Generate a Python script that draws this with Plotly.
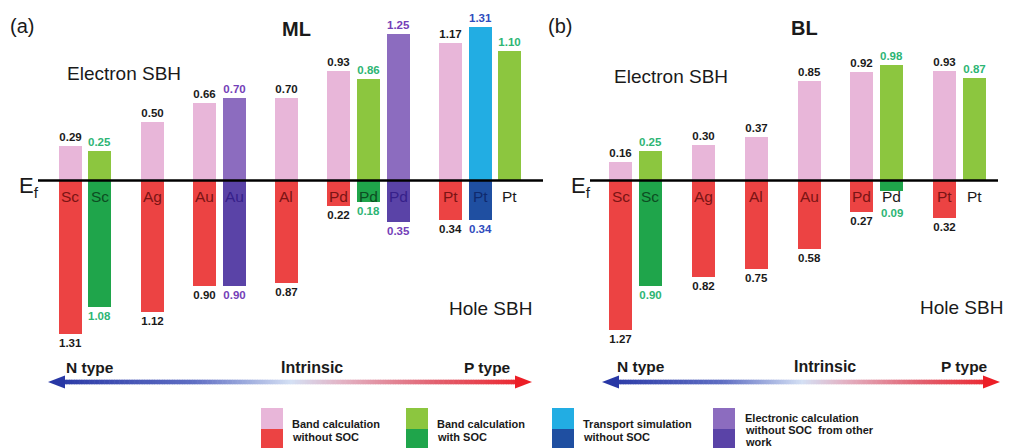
import plotly.graph_objects as go

W, H = 1011, 448
FONT = "Liberation Sans, Arial, sans-serif"

# ---- Monolayer (ML) Schottky barrier heights, eV ----
ml_metals = ["Sc", "Sc", "Ag", "Au", "Au", "Al", "Pd", "Pd", "Pd", "Pt", "Pt", "Pt"]
ml_methods = ["band", "band_soc", "band", "band", "other", "band",
              "band", "band_soc", "other", "band", "transport", "band_soc"]
ml_electron = [0.29, 0.25, 0.50, 0.66, 0.70, 0.70, 0.93, 0.86, 1.25, 1.17, 1.31, 1.10]
ml_hole = [1.31, 1.08, 1.12, 0.90, 0.90, 0.87, 0.22, 0.18, 0.35, 0.34, 0.34, None]

# ---- Bilayer (BL) Schottky barrier heights, eV ----
bl_metals = ["Sc", "Sc", "Ag", "Al", "Au", "Pd", "Pd", "Pt", "Pt"]
bl_methods = ["band", "band_soc", "band", "band", "band", "band", "band_soc", "band", "band_soc"]
bl_electron = [0.16, 0.25, 0.30, 0.37, 0.85, 0.92, 0.98, 0.93, 0.87]
bl_hole = [1.27, 0.90, 0.82, 0.75, 0.58, 0.27, 0.09, 0.32, None]

# legend entries (method key, text lines)
legend_methods = ["band", "band_soc", "transport", "other"]
legend_texts = [
    ["Band calculation", "without SOC"],
    ["Band calculation", "with SOC"],
    ["Transport simulation", "without SOC"],
    ["Electronic calculation", "without SOC  from other", "work"],
]

STYLE = {
    "band":      dict(up="#e8b6d9", down="#ec4343", value="#1a1a1a", label="#7a1414"),
    "band_soc":  dict(up="#8cc63f", down="#1fa54b", value="#2db574", label="#0c4d22"),
    "transport": dict(up="#22ade3", down="#1f4fa1", value="#2f4cbd", label="#0f2a6e"),
    "other":     dict(up="#8c6cbf", down="#5a43a7", value="#7440b8", label="#36208a"),
}

# vertical scale: Fermi level row and pixels per eV
EF_PX = 180.5
PX_PER_EV = 117.5
Y_TOP = EF_PX / PX_PER_EV
Y_BOTTOM = -(H - EF_PX) / PX_PER_EV
BAR_W = 23
SHORT_BAR = 0.15       # below this a hole bar is hidden behind its metal label
LABEL_Y = -0.135       # metal-name row just under E_f
SHORT_VALUE_Y = -0.28  # value row for bars shorter than the metal label


def px(x):
    return x / W


def py(y):
    return 1 - y / H


def bar_positions(metals, start, same_step, group_step):
    xs, x = [], start
    for i, m in enumerate(metals):
        if i > 0:
            x += same_step if m == metals[i - 1] else group_step
        xs.append(x)
    return xs


fig = go.Figure()
annotations = []
shapes = []


def bars(xs, ys, colors, labels=None, label_colors=None):
    kw = dict(x=xs, y=ys, base=0, width=BAR_W,
              marker=dict(color=colors, line_width=0),
              hoverinfo="skip", showlegend=False, cliponaxis=False)
    if labels:
        kw.update(text=labels, textposition="outside", constraintext="none",
                  textfont=dict(family=FONT, size=11.5, color=label_colors))
    fig.add_trace(go.Bar(**kw))


def add_panel(metals, methods, electron, hole, xs):
    bars(xs, electron, [STYLE[m]["up"] for m in methods],
         [f"<b>{v:.2f}</b>" for v in electron], [STYLE[m]["value"] for m in methods])

    tall = [i for i, v in enumerate(hole) if v is not None and v >= SHORT_BAR]
    short = [i for i, v in enumerate(hole) if v is not None and v < SHORT_BAR]
    bars([xs[i] for i in tall], [-hole[i] for i in tall],
         [STYLE[methods[i]]["down"] for i in tall],
         [f"<b>{hole[i]:.2f}</b>" for i in tall], [STYLE[methods[i]]["value"] for i in tall])
    if short:
        bars([xs[i] for i in short], [-hole[i] for i in short],
             [STYLE[methods[i]]["down"] for i in short])
        for i in short:
            # value of a very short bar goes beneath the metal name
            annotations.append(dict(x=xs[i], y=SHORT_VALUE_Y, xref="x", yref="y",
                                    text=f"<b>{hole[i]:.2f}</b>", showarrow=False,
                                    xanchor="center", yanchor="middle",
                                    font=dict(family=FONT, size=11.5,
                                              color=STYLE[methods[i]]["value"])))

    for i, (x, metal, m) in enumerate(zip(xs, metals, methods)):
        color = STYLE[m]["label"] if i in tall else "#1a1a1a"
        annotations.append(dict(x=x, y=LABEL_Y, xref="x", yref="y", text=metal,
                                showarrow=False, xanchor="center", yanchor="middle",
                                font=dict(family=FONT, size=15.5, color=color)))


ml_x = bar_positions(ml_metals, 70, 29.6, 52.4)
bl_x = bar_positions(bl_metals, 620.5, 29.8, 52.9)
add_panel(ml_metals, ml_methods, ml_electron, ml_hole, ml_x)
add_panel(bl_metals, bl_methods, bl_electron, bl_hole, bl_x)

# Fermi level lines
for x0, x1 in [(38, 543), (590, 998)]:
    shapes.append(dict(type="line", xref="x", yref="y", x0=x0, x1=x1, y0=0, y1=0,
                       line=dict(color="black", width=2.5), layer="above"))


def text(x, y, s, size, xanchor="left", color="#1a1a1a"):
    annotations.append(dict(x=px(x), y=py(y), xref="paper", yref="paper", text=s,
                            showarrow=False, xanchor=xanchor, yanchor="middle",
                            font=dict(family=FONT, size=size, color=color)))


# panel titles and region captions
text(8, 26, "(a)", 20)
text(296, 29, "<b>ML</b>", 20, "center")
text(546, 26, "(b)", 20)
text(804, 28, "<b>BL</b>", 20, "center")
text(65, 74, "Electron SBH", 19)
text(612, 76, "Electron SBH", 19)
text(490, 308, "Hole SBH", 19, "center")
text(961, 307, "Hole SBH", 19, "center")
text(17, 187, "E<sub>f</sub>", 22)
text(569, 187, "E<sub>f</sub>", 22)

# doping-type arrows with a blue -> white -> red gradient
STOPS = [(0.0, (40, 55, 165)), (0.3, (95, 110, 195)), (0.5, (212, 224, 244)),
         (0.6, (226, 180, 198)), (0.8, (226, 95, 110)), (1.0, (236, 30, 38))]


def grad(t):
    for (t0, c0), (t1, c1) in zip(STOPS[:-1], STOPS[1:]):
        if t <= t1:
            f = (t - t0) / (t1 - t0)
            return "rgb(%d,%d,%d)" % tuple(round(a + (b - a) * f) for a, b in zip(c0, c1))
    return "rgb(%d,%d,%d)" % STOPS[-1][1]


def gradient_arrow(x0, x1, y):
    head, half = 17, 6.5
    s0, s1 = x0 + head - 1, x1 - head + 1
    n = int((s1 - s0) / 2.5)
    for i in range(n):
        a = s0 + (s1 - s0) * i / n
        b = s0 + (s1 - s0) * (i + 1) / n
        shapes.append(dict(type="rect", xref="paper", yref="paper",
                           x0=px(a), x1=px(b + 0.6), y0=py(y + 2.3), y1=py(y - 2.3),
                           fillcolor=grad((a - x0) / (x1 - x0)), line_width=0))
    shapes.append(dict(type="path", xref="paper", yref="paper",
                       path=f"M {px(x0)} {py(y)} L {px(x0 + head)} {py(y - half)} L {px(x0 + head)} {py(y + half)} Z",
                       fillcolor=grad(0), line_width=0))
    shapes.append(dict(type="path", xref="paper", yref="paper",
                       path=f"M {px(x1)} {py(y)} L {px(x1 - head)} {py(y - half)} L {px(x1 - head)} {py(y + half)} Z",
                       fillcolor=grad(1), line_width=0))


gradient_arrow(48, 532, 382)
gradient_arrow(602, 1000, 382)
text(64, 367, "<b>N type</b>", 15.5)
text(312, 367, "<b>Intrinsic</b>", 16, "center")
text(513, 367, "<b>P type</b>", 15.5, "right")
text(615, 366, "<b>N type</b>", 15.5)
text(825, 366, "<b>Intrinsic</b>", 16, "center")
text(990, 366, "<b>P type</b>", 15.5, "right")

# legend: two-tone swatch + bold caption
legend_x = [(261, 290), (406, 435), (552, 581), (713, 743)]
for (sx, tx), m, lines in zip(legend_x, legend_methods, legend_texts):
    shapes.append(dict(type="rect", xref="paper", yref="paper", x0=px(sx), x1=px(sx + 22),
                       y0=py(429), y1=py(408), fillcolor=STYLE[m]["up"], line_width=0))
    shapes.append(dict(type="rect", xref="paper", yref="paper", x0=px(sx), x1=px(sx + 22),
                       y0=py(449), y1=py(429), fillcolor=STYLE[m]["down"], line_width=0))
    y0, step = (424, 13) if len(lines) == 2 else (418, 12)
    for k, line in enumerate(lines):
        text(tx, y0 + step * k, f"<b>{line}</b>", 11)

fig.update_layout(
    width=W, height=H, margin=dict(l=0, r=0, t=0, b=0),
    paper_bgcolor="white", plot_bgcolor="white",
    barmode="overlay", bargap=0,
    xaxis=dict(range=[0, W], visible=False, fixedrange=True),
    yaxis=dict(range=[Y_BOTTOM, Y_TOP], visible=False, fixedrange=True),
    annotations=annotations, shapes=shapes, showlegend=False,
)

fig.write_html("out.html")
